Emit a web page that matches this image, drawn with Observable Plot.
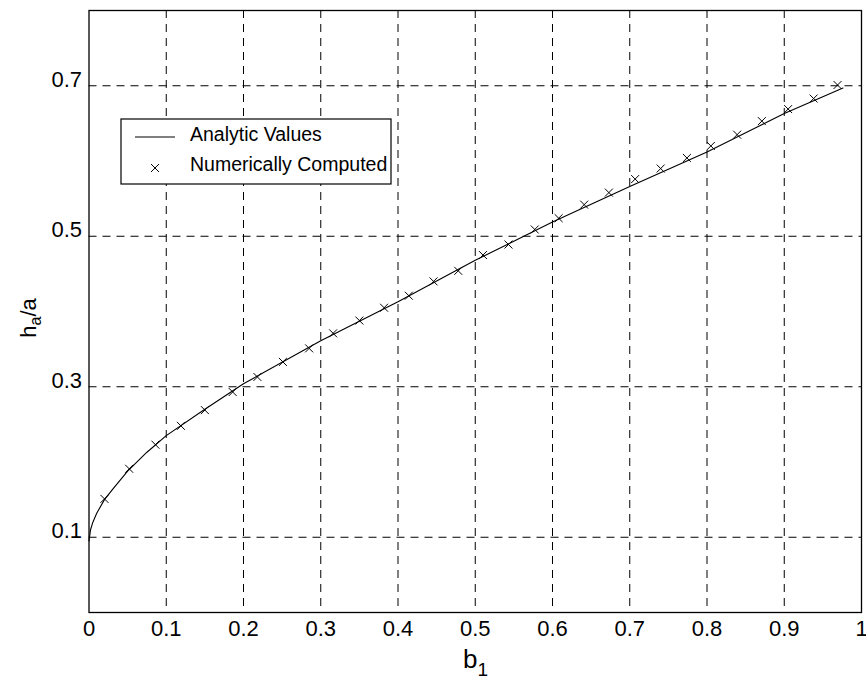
<!DOCTYPE html>
<html><head><meta charset="utf-8">
<script src="https://cdn.jsdelivr.net/npm/d3@7"></script>
<script src="https://cdn.jsdelivr.net/npm/@observablehq/plot@0.6"></script>
<style>body{margin:0;background:#fff} svg{display:block}</style>
</head><body><div id="chart"></div>
<script>
const xTicks = [0, 0.1, 0.2, 0.3, 0.4, 0.5, 0.6, 0.7, 0.8, 0.9, 1];
const xTickLabels = ["0", "0.1", "0.2", "0.3", "0.4", "0.5", "0.6", "0.7", "0.8", "0.9", "1"];
const yTicks = [0.1, 0.3, 0.5, 0.7];
const yTickLabels = ["0.1", "0.3", "0.5", "0.7"];

// Analytic curve
const analyticB1 = [0, 0.002, 0.005, 0.01, 0.02, 0.03, 0.05, 0.075, 0.1, 0.15, 0.2, 0.3, 0.4, 0.5, 0.6, 0.7, 0.8, 0.9, 0.976];
const analyticH  = [0.095, 0.11, 0.12, 0.132, 0.15, 0.163, 0.188, 0.213, 0.235, 0.270, 0.304, 0.361, 0.413, 0.468, 0.519, 0.566, 0.612, 0.663, 0.697];

// Numerically computed points
const numericB1 = [0.020, 0.052, 0.086, 0.119, 0.150, 0.186, 0.218, 0.251, 0.285, 0.316, 0.350, 0.382, 0.414, 0.446, 0.478, 0.510, 0.543, 0.577, 0.608, 0.641, 0.673, 0.707, 0.740, 0.774, 0.805, 0.839, 0.871, 0.905, 0.938, 0.969];
const numericH  = [0.151, 0.191, 0.223, 0.248, 0.269, 0.293, 0.313, 0.333, 0.351, 0.371, 0.388, 0.405, 0.421, 0.440, 0.454, 0.475, 0.489, 0.509, 0.524, 0.542, 0.558, 0.576, 0.590, 0.604, 0.620, 0.635, 0.653, 0.669, 0.683, 0.701];

const legendLabels = ["Analytic Values", "Numerically Computed"];

const analytic = analyticB1.map((b, i) => ({b, h: analyticH[i]}));
const numeric = numericB1.map((b, i) => ({b, h: numericH[i]}));

const fontFamily = '"Liberation Sans", Arial, Helvetica, sans-serif';

const svg = Plot.plot({
  width: 866,
  height: 685,
  marginLeft: 88.5,
  marginRight: 5,
  marginTop: 10,
  marginBottom: 73,
  style: {fontFamily, fontSize: "22px", color: "black", background: "white", overflow: "visible"},
  x: {domain: [0, 1], label: null},
  y: {domain: [0, 0.8], label: null},
  marks: [
    Plot.gridX(xTicks.slice(1, -1), {stroke: "black", strokeOpacity: 1, strokeWidth: 1, strokeDasharray: "8,6"}),
    Plot.gridY(yTicks, {stroke: "black", strokeOpacity: 1, strokeWidth: 1, strokeDasharray: "8,6"}),
    Plot.frame({stroke: "black", strokeWidth: 1.3}),
    Plot.axisX({ticks: xTicks, tickSize: 0, tickPadding: 8, fontSize: 22, label: null,
      tickFormat: d => xTickLabels[xTicks.indexOf(d)]}),
    Plot.axisY({ticks: yTicks, tickSize: 0, tickPadding: 7, dy: -6, fontSize: 22, label: null,
      tickFormat: d => yTickLabels[yTicks.indexOf(d)]}),
    Plot.line(analytic, {x: "b", y: "h", stroke: "black", strokeWidth: 1.1}),
    Plot.dot(numeric, {x: "b", y: "h", symbol: "times", r: 3.7, stroke: "black", strokeWidth: 1})
  ]
});

const s = d3.select(svg);

// Axis labels with subscripts
const xl = s.append("text")
  .attr("x", 463).attr("y", 668).attr("text-anchor", "start")
  .attr("font-family", fontFamily).attr("font-size", 26).attr("fill", "black");
xl.append("tspan").text("b");
xl.append("tspan").attr("dy", 8).attr("font-size", 19).text("1");

const yl = s.append("text")
  .attr("transform", "translate(36,318) rotate(-90)")
  .attr("text-anchor", "middle")
  .attr("font-family", fontFamily).attr("font-size", 22).attr("fill", "black");
yl.append("tspan").text("h");
yl.append("tspan").attr("dy", 5).attr("font-size", 16).text("a");
yl.append("tspan").attr("dy", -5).text("/a");

// Legend
const lg = s.append("g").attr("font-family", fontFamily).attr("font-size", 19.5)
  .attr("fill", "black").attr("text-anchor", "start");
lg.append("rect").attr("x", 121).attr("y", 119).attr("width", 270).attr("height", 65)
  .attr("fill", "white").attr("stroke", "black").attr("stroke-width", 1.2);
lg.append("line").attr("x1", 135).attr("x2", 175).attr("y1", 137).attr("y2", 137)
  .attr("stroke", "black").attr("stroke-width", 1);
lg.append("path").attr("d", d3.symbol(d3.symbolTimes, Math.PI * 3.7 * 3.7)())
  .attr("transform", "translate(155,168)").attr("fill", "none").attr("stroke", "black");
lg.append("text").attr("x", 190).attr("y", 141).text(legendLabels[0]);
lg.append("text").attr("x", 190).attr("y", 171).text(legendLabels[1]);

document.getElementById("chart").appendChild(svg);
</script>
</body></html>
